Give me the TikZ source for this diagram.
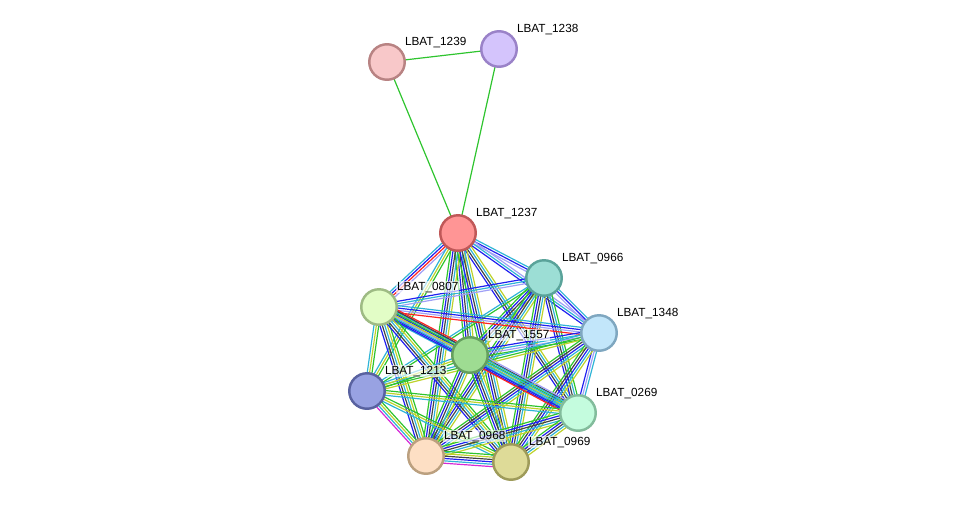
\documentclass[tikz,border=0pt]{standalone}
\usepackage{fontspec}
\setmainfont{Liberation Sans}
\usetikzlibrary{calc,backgrounds}

% evidence channels
\definecolor{cN}{HTML}{2EC42E}
\definecolor{cF}{HTML}{FF2222}
\definecolor{cC}{HTML}{2020F0}
\definecolor{cX}{HTML}{444444}
\definecolor{cE}{HTML}{D62AD6}
\definecolor{cD}{HTML}{2FB4D6}
\definecolor{cT}{HTML}{BED22A}
\definecolor{cH}{HTML}{A0A0F6}
% proteins (fill / border)
\definecolor{cf1239}{HTML}{F8C8C9}\definecolor{cd1239}{HTML}{B88383}
\definecolor{cf1238}{HTML}{D4C4FC}\definecolor{cd1238}{HTML}{9A82C8}
\definecolor{cf1237}{HTML}{FF9595}\definecolor{cd1237}{HTML}{C05858}
\definecolor{cf0966}{HTML}{9CDED5}\definecolor{cd0966}{HTML}{5AA39A}
\definecolor{cf0807}{HTML}{E2FDC6}\definecolor{cd0807}{HTML}{9EBB84}
\definecolor{cf1348}{HTML}{C2E6FA}\definecolor{cd1348}{HTML}{7FA7C0}
\definecolor{cf1557}{HTML}{9EDC92}\definecolor{cd1557}{HTML}{659F5E}
\definecolor{cf1213}{HTML}{98A2E2}\definecolor{cd1213}{HTML}{5962A0}
\definecolor{cf0269}{HTML}{C4FCDE}\definecolor{cd0269}{HTML}{83BC9C}
\definecolor{cf0968}{HTML}{FDDFC4}\definecolor{cd0968}{HTML}{BBA07F}
\definecolor{cf0969}{HTML}{DEDB98}\definecolor{cd0969}{HTML}{9E9B5A}

% one bundle of parallel channel lines between two proteins
\newcommand{\sedge}[3]{%
  \edef\chlist{#3}%
  \gdef\nch{0}%
  \foreach \c in \chlist {\xdef\nch{\the\numexpr\nch+1\relax}}%
  \foreach \c [count=\k] in \chlist {
    \pgfmathsetmacro\off{(\k-(\nch+1)/2)*1.35}
    \draw[chan, draw=\c] ($(p#1.center)!\off pt!90:(p#2.center)$) -- ($(p#2.center)!\off pt!-90:(p#1.center)$);
  }%
}

\begin{document}
\begin{tikzpicture}[x=0.02cm, y=-0.02cm,
  prot/.style={circle, minimum size=0.71cm, inner sep=0pt, line width=1.4pt},
  lbl/.style={anchor=base west, font=\fontsize{6.7}{8}\selectfont, fill=white,
    fill opacity=0.65, text opacity=1, inner sep=0.4pt},
  chan/.style={line width=0.68pt}]
  \useasboundingbox (0,0) rectangle (975,508);

  % proteins and their labels
  \foreach \id/\px/\py in {
    1239/387/62, 1238/499/49, 1237/458/233, 0966/544/278,
    0807/379/307, 1348/599/333, 1557/470/355, 1213/367/391,
    0269/578/413, 0968/426/456, 0969/511/462}{
    \node[prot, fill=cf\id, draw=cd\id] (p\id) at (\px,\py) {};
    \node[lbl] (l\id) at ($(p\id)+(17,-16.8)$) {LBAT\_\id};
  }

  % interactions
  \begin{scope}[on background layer]
    \foreach \a/\b/\chans in {
      1237/1239/{cN}, 1237/1238/{cN}, 1239/1238/{cN},
      1237/0966/{cH,cC,cD}, 1237/0807/{cD,cC,cF,cH},
      1237/1348/{cC,cD,cH}, 1237/1557/{cN,cC,cX,cD,cT},
      1237/1213/{cD,cT,cN}, 1237/0269/{cC,cX,cD,cT},
      1237/0968/{cN,cC,cX,cD,cT}, 1237/0969/{cN,cC,cX,cD,cT},
      0966/0807/{cC,cD,cH}, 0966/1348/{cH,cC,cD},
      0966/1557/{cN,cC,cX,cD,cT}, 0966/1213/{cD,cN},
      0966/0269/{cC,cX,cD,cN}, 0966/0968/{cN,cC,cX,cD,cT},
      0966/0969/{cN,cC,cX,cD,cT},
      0807/1348/{cF,cH,cC,cD}, 0807/1557/{cD,cC,cH,cC,cD,cF},
      0807/1213/{cD,cT,cN}, 0807/0269/{cC,cD,cT,cN,cX},
      0807/0968/{cC,cX,cD,cT,cN}, 0807/0969/{cC,cX,cD,cT,cN},
      1348/1557/{cC,cD,cH,cN}, 1348/1213/{cD,cN,cT},
      1348/0269/{cC,cH,cD}, 1348/0968/{cN,cX,cC,cD,cT},
      1348/0969/{cN,cX,cC,cD,cT},
      1557/1213/{cD,cT,cN}, 1557/0269/{cF,cC,cD,cD,cD,cH},
      1557/0968/{cN,cC,cX,cD,cT}, 1557/0969/{cN,cC,cX,cD,cT},
      1213/0269/{cD,cT,cN}, 1213/0968/{cE,cD,cT,cN},
      1213/0969/{cD,cT,cN},
      0269/0968/{cN,cC,cX,cD,cT}, 0269/0969/{cN,cC,cX,cD,cT},
      0968/0969/{cE,cD,cC,cX,cT,cN}}{
      \sedge{\a}{\b}{\chans}
    }
  \end{scope}
\end{tikzpicture}
\end{document}
